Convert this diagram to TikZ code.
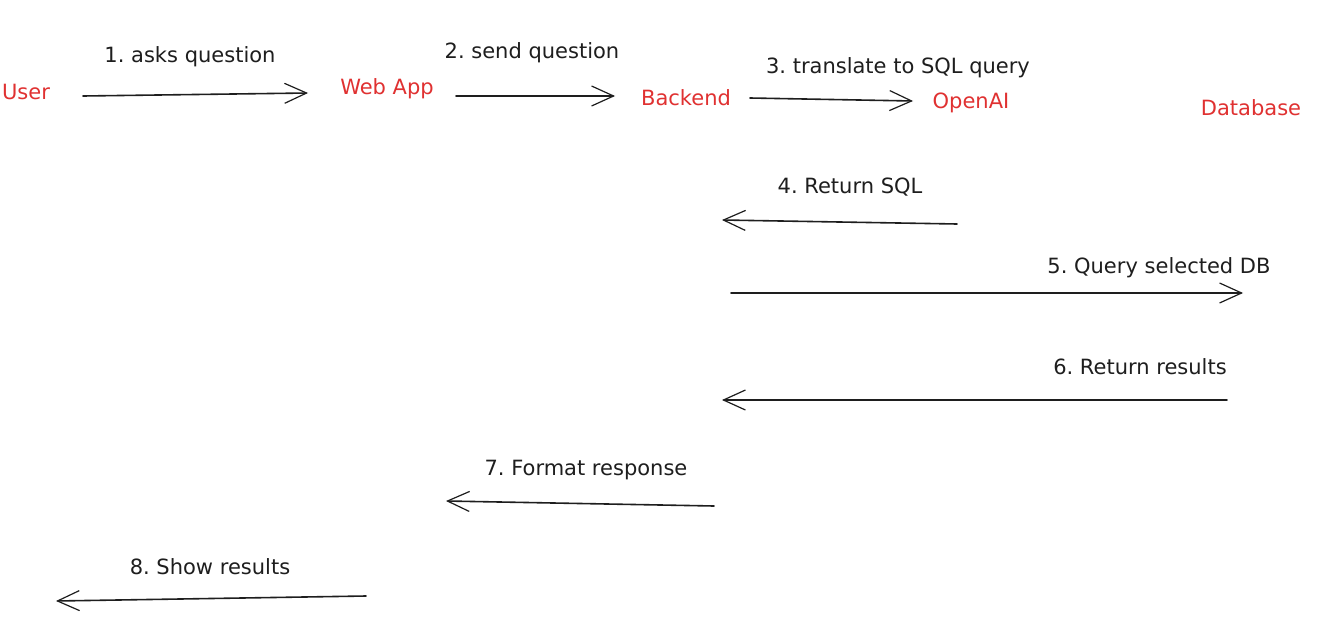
\documentclass[tikz,border=0pt]{standalone}
\usepackage{fontspec}
\setmainfont{DejaVu Sans}
\frenchspacing
\usetikzlibrary{arrows.meta}
\definecolor{actorred}{HTML}{E03131}
\definecolor{ink}{HTML}{1E1E1E}
\tikzset{
  actor/.style={text=actorred, font=\fontsize{21}{25}\selectfont, inner sep=0pt},
  msglabel/.style={text=ink, font=\fontsize{21}{25}\selectfont, inner sep=0pt},
  msg/.style={draw=ink, line width=1.6pt, line cap=round, -{Straight Barb[length=22pt,width=20pt,line width=1.2pt]}}
}
\begin{document}
\begin{tikzpicture}[x=1pt,y=-1pt]
\path[use as bounding box, fill=white] (0,0) rectangle (1336,637);
% actors
\node[actor] (user) at (26,92) {User};
\node[actor] (webapp) at (387,89) {Web App};
\node[actor] (backend) at (686,98) {Backend};
\node[actor] (openai) at (971,103) {OpenAI};
\node[actor] (database) at (1251,108) {Database};
% connector end points
\coordinate (a1s) at (83,96);   \coordinate (a1e) at (308,93);
\coordinate (a2s) at (456,96);  \coordinate (a2e) at (615,96);
\coordinate (a3s) at (750,98);  \coordinate (a3e) at (913,101);
\coordinate (a4s) at (957,224); \coordinate (a4e) at (722,220);
\coordinate (a5s) at (731,293); \coordinate (a5e) at (1243,293);
\coordinate (a6s) at (1227,400);\coordinate (a6e) at (722,400);
\coordinate (a7s) at (714,506); \coordinate (a7e) at (446,501);
\coordinate (a8s) at (366,596); \coordinate (a8e) at (56,601);
% connectors
\draw[msg] (a1s) -- (a1e);
\draw[msg] (a2s) -- (a2e);
\draw[msg] (a3s) -- (a3e);
\draw[msg] (a4s) -- (a4e);
\draw[msg] (a5s) -- (a5e);
\draw[msg] (a6s) -- (a6e);
\draw[msg] (a7s) -- (a7e);
\draw[msg] (a8s) -- (a8e);
% labels
\node[msglabel] (l1) at (190,57) {1. asks question};
\node[msglabel] (l2) at (532,53) {2. send question};
\node[msglabel] (l3) at (898,68) {3. translate to SQL query};
\node[msglabel] (l4) at (850,187) {4. Return SQL};
\node[msglabel] (l5) at (1159,268) {5. Query selected DB};
\node[msglabel] (l6) at (1140,367) {6. Return results};
\node[msglabel] (l7) at (586,470) {7. Format response};
\node[msglabel] (l8) at (210,567) {8. Show results};
\end{tikzpicture}
\end{document}
